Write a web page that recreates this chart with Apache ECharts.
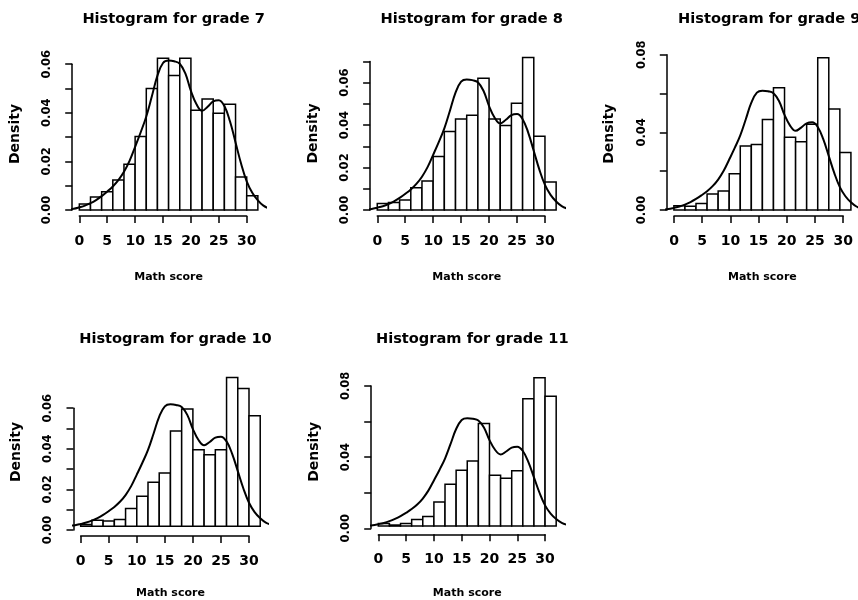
<!DOCTYPE html>
<html>
<head>
<meta charset="utf-8">
<title>Histograms of math score by grade</title>
<script src="https://cdn.jsdelivr.net/npm/echarts@6/dist/echarts.min.js"></script>
<style>
  html, body { margin: 0; padding: 0; background: #fff; }
  #chart { width: 858px; height: 600px; }
</style>
</head>
<body>
<div id="chart"></div>
<script>
// bins are 2 points wide: 0-2, 2-4 ... 30-32
var binStarts = [0, 2, 4, 6, 8, 10, 12, 14, 16, 18, 20, 22, 24, 26, 28, 30];
var binWidth = 2;

// histogram densities, one value per bin
var grade7  = [0.0025, 0.0053, 0.0075, 0.0123, 0.0188, 0.0302, 0.0500, 0.0624, 0.0553, 0.0624, 0.0410, 0.0457, 0.0398, 0.0435, 0.0136, 0.0059];
var grade8  = [0.0031, 0.0035, 0.0047, 0.0105, 0.0137, 0.0252, 0.0370, 0.0429, 0.0447, 0.0621, 0.0429, 0.0398, 0.0503, 0.0719, 0.0347, 0.0132];
var grade9  = [0.0022, 0.0019, 0.0033, 0.0082, 0.0098, 0.0187, 0.0330, 0.0338, 0.0466, 0.0630, 0.0375, 0.0352, 0.0442, 0.0785, 0.0520, 0.0297];
var grade10 = [0.0008, 0.0030, 0.0026, 0.0033, 0.0089, 0.0151, 0.0222, 0.0268, 0.0480, 0.0591, 0.0386, 0.0361, 0.0386, 0.0750, 0.0695, 0.0558];
var grade11 = [0.0015, 0.0006, 0.0015, 0.0037, 0.0054, 0.0137, 0.0238, 0.0318, 0.0371, 0.0584, 0.0290, 0.0272, 0.0315, 0.0725, 0.0846, 0.0740];
var gradeData = [grade7, grade8, grade9, grade10, grade11];
var panelTitles = ['Histogram for grade 7', 'Histogram for grade 8', 'Histogram for grade 9',
                   'Histogram for grade 10', 'Histogram for grade 11'];

// the same density curve is drawn on every panel
var curveX = [-2, -1, 0, 1, 2, 3, 4, 5, 6, 7, 8, 9, 10, 11, 12, 13, 14, 15, 16, 17, 18,
              19, 20, 21, 22, 23, 24, 25, 26, 27, 28, 29, 30, 31, 32, 33, 34, 35];
var curveY = [0.0002, 0.0005, 0.0011, 0.0018, 0.0028, 0.0041, 0.0057, 0.0076, 0.0097, 0.0123,
              0.0157, 0.0202, 0.0260, 0.0320, 0.0385, 0.0468, 0.0553, 0.0605, 0.0615, 0.0612,
              0.0602, 0.0562, 0.0490, 0.0435, 0.0408, 0.0425, 0.0447, 0.0452, 0.0428, 0.0365,
              0.0278, 0.0190, 0.0118, 0.0071, 0.0040, 0.0018, 0.0007, 0.0003];

// y axis ticks for each panel: last tick, tick step, labelled step
var yTickTop   = [0.06, 0.07, 0.08, 0.06, 0.08];
var yTickStep  = [0.01, 0.01, 0.02, 0.01, 0.02];
var yLabelStep = [0.02, 0.02, 0.04, 0.02, 0.04];

// panel boxes in px (plot region, pixel of density 0, px per density unit)
var layout = [
  { left: 72.2,  right: 265.0, top: 52,    bottom: 216,   zero: 210,   perUnit: 2430, titleTop: 7 },
  { left: 370.1, right: 563.3, top: 51,    bottom: 216,   zero: 210,   perUnit: 2122, titleTop: 7 },
  { left: 666.8, right: 861.7, top: 51.6,  bottom: 216,   zero: 210,   perUnit: 1940, titleTop: 7 },
  { left: 73.5,  right: 267.4, top: 372,   bottom: 536,   zero: 530,   perUnit: 2030, titleTop: 327 },
  { left: 371.2, right: 563.3, top: 371.7, bottom: 534.3, zero: 528.3, perUnit: 1780, titleTop: 327 }
];
var xLo = -1.28, xHi = 33.28;

var font = 'DejaVu Sans';
var grids = [], xAxes = [], yAxes = [], series = [], titles = [];

layout.forEach(function (p, i) {
  var pxPerX = (p.right - p.left) / (xHi - xLo);
  var xZero = p.left - xLo * pxPerX;
  var base = grids.length;

  // main plot region
  grids.push({ left: p.left, top: p.top, width: p.right - p.left, height: p.bottom - p.top });
  xAxes.push({
    gridIndex: base, type: 'value', min: xLo, max: xHi,
    axisLine: { show: false }, axisTick: { show: false }, axisLabel: { show: false }, splitLine: { show: false },
    name: 'Math score', nameLocation: 'middle', nameGap: 56,
    nameTextStyle: { fontFamily: font, fontWeight: 'bold', fontSize: 11, color: '#000' }
  });
  yAxes.push({
    gridIndex: base, type: 'value',
    min: -(p.bottom - p.zero) / p.perUnit, max: (p.zero - p.top) / p.perUnit,
    axisLine: { show: false }, axisTick: { show: false }, axisLabel: { show: false }, splitLine: { show: false },
    name: 'Density', nameLocation: 'middle', nameGap: 50,
    nameTextStyle: { fontFamily: font, fontWeight: 'bold', fontSize: 14, color: '#000' }
  });

  // x axis drawn from 0 to 30 only
  grids.push({ left: xZero, width: 30 * pxPerX, top: p.bottom - 10, height: 10 });
  xAxes.push({
    gridIndex: base + 1, type: 'value', min: 0, max: 30, interval: 5,
    axisLine: { lineStyle: { color: '#000', width: 1.5 } },
    axisTick: { length: 7, lineStyle: { color: '#000', width: 1.5 } },
    axisLabel: { margin: 18, fontFamily: font, fontWeight: 'bold', fontSize: 14, color: '#000' },
    splitLine: { show: false }
  });
  yAxes.push({ gridIndex: base + 1, type: 'value', show: false });

  // y axis drawn from 0 to its last tick only
  var step = yLabelStep[i];
  grids.push({ left: p.left, width: 10, top: p.zero - yTickTop[i] * p.perUnit, height: yTickTop[i] * p.perUnit });
  xAxes.push({ gridIndex: base + 2, type: 'value', show: false });
  yAxes.push({
    gridIndex: base + 2, type: 'value', min: 0, max: yTickTop[i], interval: yTickStep[i],
    axisLine: { show: true, lineStyle: { color: '#000', width: 1.5 } },
    axisTick: { show: true, length: 7, lineStyle: { color: '#000', width: 1.5 } },
    axisLabel: {
      rotate: 90, margin: 19, fontFamily: font, fontWeight: 'bold', fontSize: 11.5, color: '#000',
      formatter: function (v) {
        var k = Math.round(v / step);
        return Math.abs(v - k * step) < 1e-9 ? v.toFixed(2) : '';
      }
    },
    splitLine: { show: false }
  });

  titles.push({
    text: panelTitles[i], left: (p.left + p.right) / 2, top: p.titleTop, textAlign: 'center',
    textStyle: { fontFamily: font, fontWeight: 'bold', fontSize: 14.6, color: '#000' }
  });

  series.push({
    type: 'custom', xAxisIndex: base, yAxisIndex: base, clip: false,
    data: binStarts.map(function (s, j) { return [s, s + binWidth, gradeData[i][j]]; }),
    encode: { x: [0, 1], y: 2 },
    renderItem: function (params, api) {
      var p0 = api.coord([api.value(0), 0]);
      var p1 = api.coord([api.value(1), api.value(2)]);
      return {
        type: 'rect',
        shape: { x: p0[0], y: p1[1], width: p1[0] - p0[0], height: p0[1] - p1[1] },
        style: { fill: '#fff', stroke: '#000', lineWidth: 1.5 }
      };
    }
  });
  series.push({
    type: 'line', xAxisIndex: base, yAxisIndex: base, clip: true, z: 5,
    data: curveX.map(function (x, k) { return [x, curveY[k]]; }),
    smooth: 0.4, showSymbol: false, silent: true,
    lineStyle: { color: '#000', width: 2 }
  });
});

var chart = echarts.init(document.getElementById('chart'));
chart.setOption({
  backgroundColor: '#fff',
  animation: false,
  title: titles,
  grid: grids,
  xAxis: xAxes,
  yAxis: yAxes,
  series: series
});
</script>
</body>
</html>
